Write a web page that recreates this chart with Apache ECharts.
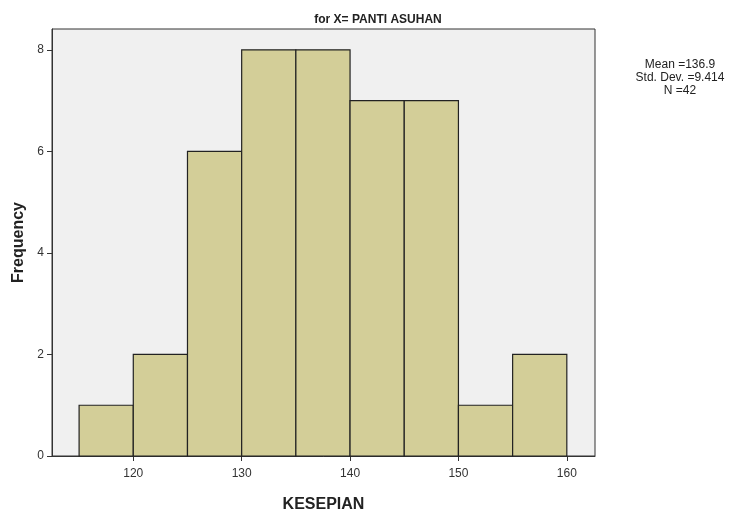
<!DOCTYPE html>
<html>
<head>
<meta charset="utf-8">
<script src="https://cdn.jsdelivr.net/npm/echarts@6/dist/echarts.min.js"></script>
<style>
  html, body { margin: 0; padding: 0; background: #fff; }
  #chart { width: 741px; height: 513px; }
</style>
</head>
<body>
<div id="chart"></div>
<script>
// bin edges and counts
const binStart = [115, 120, 125, 130, 135, 140, 145, 150, 155];
const binEnd = [120, 125, 130, 135, 140, 145, 150, 155, 160];
const counts = [1, 2, 6, 8, 8, 7, 7, 1, 2];
const xTicks = [120, 130, 140, 150, 160];
const statLines = ['Mean =136.9', 'Std. Dev. =9.414', 'N =42'];

const chart = echarts.init(document.getElementById('chart'));

const data = binStart.map((s, i) => [s, binEnd[i], counts[i]]);

const option = {
  animation: false,
  textStyle: { fontFamily: 'Liberation Sans, Arial, sans-serif' },
  title: {
    text: 'for X= PANTI ASUHAN',
    left: 373,
    top: 9,
    textAlign: 'center',
    textStyle: { fontSize: 12, fontWeight: 'bold', color: '#222' }
  },
  graphic: [
    {
      type: 'text',
      x: 680,
      y: 58,
      style: {
        text: statLines.join('\n'),
        font: '12px Liberation Sans, Arial, sans-serif',
        fill: '#222',
        align: 'center',
        lineHeight: 13
      }
    }
  ],
  grid: {
    left: 52,
    right: 146,
    top: 29,
    bottom: 57,
    outerBoundsMode: 'none',
    containLabel: false,
    show: true,
    backgroundColor: '#f0f0f0',
    borderColor: '#333',
    borderWidth: 1
  },
  xAxis: {
    type: 'value',
    min: 112.5,
    max: 162.6,
    name: 'KESEPIAN',
    nameLocation: 'middle',
    nameGap: 41,
    nameTextStyle: { fontSize: 16, fontWeight: 'bold', color: '#222' },
    axisLine: { show: true, lineStyle: { color: '#333' } },
    axisTick: { show: true, length: 5, lineStyle: { color: '#333' }, customValues: xTicks },
    axisLabel: { color: '#333', fontSize: 12, margin: 12, customValues: xTicks },
    splitLine: { show: false }
  },
  yAxis: {
    type: 'value',
    min: 0,
    max: 8.41,
    interval: 2,
    name: 'Frequency',
    nameLocation: 'middle',
    nameGap: 23,
    nameTextStyle: { fontSize: 16, fontWeight: 'bold', color: '#222' },
    axisLine: { show: true, lineStyle: { color: '#333' } },
    axisTick: { show: true, length: 5, lineStyle: { color: '#333' } },
    axisLabel: { color: '#333', fontSize: 12, margin: 8, showMaxLabel: false },
    splitLine: { show: false }
  },
  series: [
    {
      type: 'custom',
      data: data,
      encode: { x: [0, 1], y: 2 },
      renderItem: function (params, api) {
        const p0 = api.coord([api.value(0), api.value(2)]);
        const p1 = api.coord([api.value(1), 0]);
        return {
          type: 'rect',
          shape: { x: p0[0], y: p0[1], width: p1[0] - p0[0], height: p1[1] - p0[1] },
          style: { fill: '#d3ce98', stroke: '#222', lineWidth: 1.2 }
        };
      }
    }
  ]
};

chart.setOption(option);
</script>
</body>
</html>
